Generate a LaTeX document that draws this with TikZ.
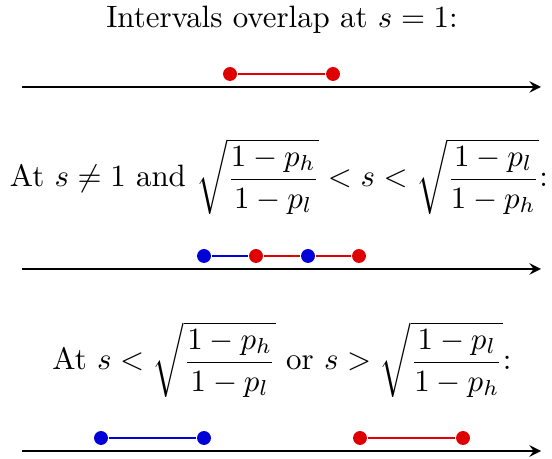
\documentclass[tikz,border=0pt]{standalone}
\usepackage{amsmath}
\usepackage{tikz}
\usetikzlibrary{arrows}

\definecolor{lowred}{RGB}{222,0,0}
\definecolor{lowblue}{RGB}{0,0,215}
\tikzset{
  dot/.style={circle,fill,inner sep=0pt,minimum size=4.5pt},
  seg/.style={line width=0.75pt},
  axis/.style={->,>=stealth,line width=0.65pt}
}

\begin{document}
\begin{tikzpicture}[x=0.01137cm,y=-0.01137cm]
\useasboundingbox (0,0) rectangle (552,459);
% first case
\path (282,28) node[anchor=base] (title1) {Intervals overlap at $s=1$:};
\coordinate (a1) at (22,87);
\coordinate (b1) at (541,87);
\draw[axis] (a1) -- (b1);
\node[dot,lowred] (r1l) at (230,74) {};
\node[dot,lowred] (r1r) at (333,74) {};
\draw[seg,lowred] (r1l) -- (r1r);
% second case
\path (279,187) node[anchor=base] (title2) {At $s\neq 1$ and $\displaystyle\sqrt{\frac{1-p_h}{1-p_l}}<s<\sqrt{\frac{1-p_l}{1-p_h}}$:};
\coordinate (a2) at (22,269);
\coordinate (b2) at (541,269);
\draw[axis] (a2) -- (b2);
\node[dot,lowblue] (b2l) at (204,256) {};
\node[dot,lowblue] (b2r) at (308,256) {};
\node[dot,lowred] (r2l) at (256,256) {};
\node[dot,lowred] (r2r) at (359,256) {};
\draw[seg,lowblue] (b2l) -- (r2l);
\draw[seg,lowred] (r2l) -- (b2r);
\draw[seg,lowred] (b2r) -- (r2r);
% third case
\path (282,370) node[anchor=base] (title3) {At $s<\displaystyle\sqrt{\frac{1-p_h}{1-p_l}}$ or $s>\displaystyle\sqrt{\frac{1-p_l}{1-p_h}}$:};
\coordinate (a3) at (22,451);
\coordinate (b3) at (541,451);
\draw[axis] (a3) -- (b3);
\node[dot,lowblue] (b3l) at (101,438) {};
\node[dot,lowblue] (b3r) at (204,438) {};
\node[dot,lowred] (r3l) at (360,438) {};
\node[dot,lowred] (r3r) at (463,438) {};
\draw[seg,lowblue] (b3l) -- (b3r);
\draw[seg,lowred] (r3l) -- (r3r);
\end{tikzpicture}
\end{document}
